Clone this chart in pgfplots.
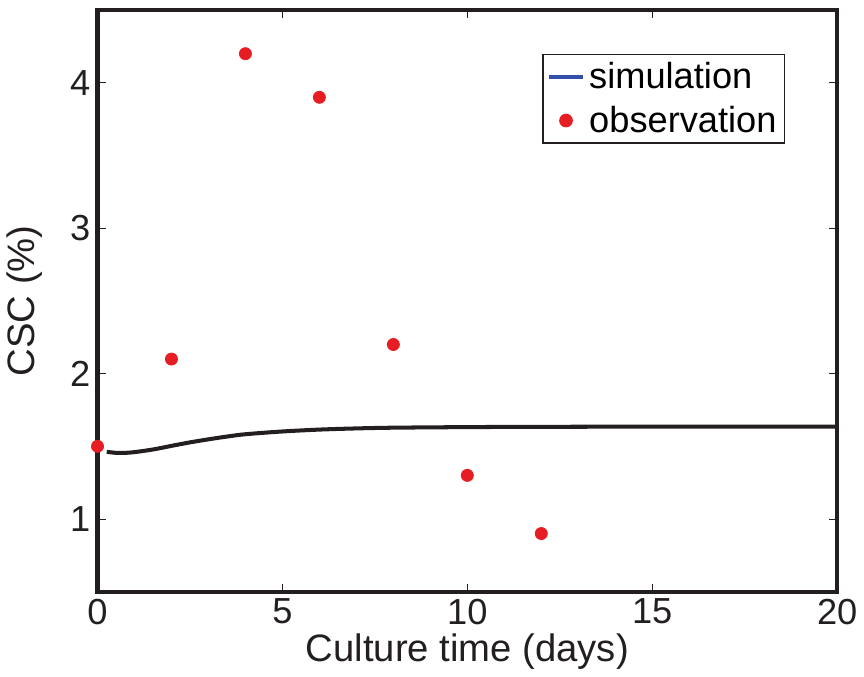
\documentclass[border=0pt]{standalone}
\usepackage{fontspec}
\setmainfont{Liberation Sans}
\usepackage{pgfplots}
\pgfplotsset{compat=1.18}
\definecolor{obsred}{RGB}{230,30,36}
\definecolor{simblue}{RGB}{50,80,170}
\definecolor{axblack}{RGB}{35,31,32}
\begin{document}
\begin{tikzpicture}
\begin{axis}[
  width=367.5pt, height=289pt, scale only axis,
  xmin=0, xmax=20, ymin=0.5, ymax=4.5,
  xtick={0,5,10,15,20}, ytick={1,2,3,4},
  tick align=inside, major tick length=4pt,
  tick style={axblack, line width=0.5pt},
  axis line style={axblack, line width=2pt},
  xtick pos=both, ytick pos=both,
  /pgf/number format/assume math mode=true,
  tick label style={font=\fontsize{18}{20}\selectfont, text=axblack},
  label style={font=\fontsize{19}{21}\selectfont, text=axblack},
  xlabel={Culture time (days)}, ylabel={CSC (\%)},
  xlabel style={yshift=2pt}, ylabel style={yshift=7pt},
  legend style={at={(0.93,0.925)}, anchor=north east, draw=axblack, line width=0.8pt,
    font=\fontsize{18}{20}\selectfont, inner sep=2pt, row sep=3pt},
  legend cell align=left,
  clip=false,
]
\addplot[axblack, line width=2pt, smooth, forget plot] coordinates {
(0.25,1.462) (0.5,1.455) (0.75,1.455) (1,1.46) (1.5,1.478) (2,1.503) (2.5,1.527)
(3,1.548) (3.5,1.567) (4,1.583) (5,1.602) (6,1.615) (7,1.623) (8,1.628)
(10,1.632) (12,1.634) (15,1.635) (20,1.635)};
\addlegendimage{simblue, line width=2pt}
\addlegendentry{simulation}
\addplot[only marks, mark=*, mark size=3pt, color=obsred] coordinates {
(0,1.5) (2,2.1) (4,4.2) (6,3.9) (8,2.2) (10,1.3) (12,0.9)};
\addlegendentry{observation}
\end{axis}
\path (current axis.north) ++(0,5pt);
\path (current axis.south) ++(0,-6pt);
\end{tikzpicture}
\end{document}
